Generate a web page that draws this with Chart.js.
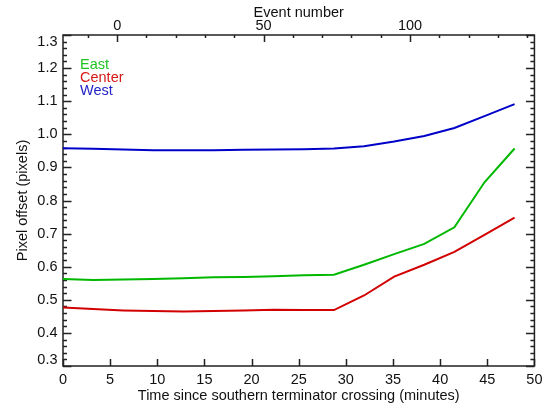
<!DOCTYPE html>
<html>
<head>
<meta charset="utf-8">
<script src="https://cdn.jsdelivr.net/npm/chart.js@4.4.1/dist/chart.umd.min.js"></script>
<style>
  html, body { margin: 0; padding: 0; background: #fff; }
  #wrap { width: 548px; height: 405px; position: relative; }
</style>
</head>
<body>
<div id="wrap"><canvas id="c" width="548" height="405"></canvas></div>
<script>
// ---- data ----
const times = [0, 3.193, 6.386, 9.579, 12.772, 15.965, 19.158, 22.351, 25.544, 28.737, 31.93, 35.123, 38.316, 41.509, 44.702, 47.895];
const eastValues   = [0.563, 0.560, 0.561, 0.563, 0.565, 0.568, 0.569, 0.571, 0.574, 0.576, 0.606, 0.638, 0.669, 0.719, 0.855, 0.957];
const centerValues = [0.477, 0.472, 0.468, 0.466, 0.465, 0.466, 0.468, 0.470, 0.469, 0.469, 0.513, 0.570, 0.606, 0.645, 0.696, 0.748];
const westValues   = [0.958, 0.956, 0.954, 0.952, 0.952, 0.952, 0.953, 0.954, 0.955, 0.957, 0.964, 0.978, 0.995, 1.019, 1.055, 1.091];
const seriesNames = ['East', 'Center', 'West'];
const xTickLabels = [0, 5, 10, 15, 20, 25, 30, 35, 40, 45, 50];
const yTickLabels = [0.3, 0.4, 0.5, 0.6, 0.7, 0.8, 0.9, 1.0, 1.1, 1.2, 1.3];
const eventTickLabels = [0, 50, 100];
const eventMinorTicks = [-10, 0, 10, 20, 30, 40, 50, 60, 70, 80, 90, 100, 110, 120, 130, 140];
const eventRange = [-18.5, 142.5]; // event number at time 0 and time 50

// ---- style ----
const lineColors = ['#00b800', '#d20000', '#0000c8'];
const textColors = ['#22c422', '#d81818', '#2222c8'];
const FONT = "'Liberation Sans', Arial, Helvetica, sans-serif";
const FS = 14.5;
const AXIS = '#222222';

function toXY(vals) { return times.map((t, i) => ({ x: t, y: vals[i] })); }

const frameTicks = {
  id: 'frameTicks',
  beforeDatasetsDraw(chart) {
    const { ctx, chartArea: a, scales } = chart;
    ctx.save();
    ctx.strokeStyle = AXIS;
    ctx.lineWidth = 1.5;
    ctx.beginPath();
    ctx.rect(a.left, a.top, a.right - a.left, a.bottom - a.top);
    ctx.stroke();
    ctx.beginPath();
    for (let k = 0; k <= 50; k++) {
      const v = 0.3 + k * 0.02;
      const py = Math.round(scales.y.getPixelForValue(v)) + 0.5;
      const len = (k % 5 === 0) ? 8.5 : 4;
      ctx.moveTo(a.left, py); ctx.lineTo(a.left + len, py);
      ctx.moveTo(a.right, py); ctx.lineTo(a.right - len, py);
    }
    xTickLabels.forEach(v => {
      const px = Math.round(scales.x.getPixelForValue(v)) + 0.5;
      ctx.moveTo(px, a.bottom); ctx.lineTo(px, a.bottom - 7);
    });
    eventMinorTicks.forEach(v => {
      const px = Math.round(scales.x2.getPixelForValue(v)) + 0.5;
      const len = (v % 50 === 0) ? 7 : 3;
      ctx.moveTo(px, a.top); ctx.lineTo(px, a.top + len);
    });
    ctx.stroke();
    // y tick labels, kept inside the frame's vertical extent
    ctx.font = FS + 'px ' + FONT;
    ctx.fillStyle = '#111';
    ctx.textAlign = 'right';
    ctx.textBaseline = 'middle';
    yTickLabels.forEach(v => {
      let py = scales.y.getPixelForValue(v);
      py = Math.min(Math.max(py, a.top + 6.5), a.bottom - 6);
      ctx.fillText(v.toFixed(1), a.left - 5.5, py);
    });
    ctx.restore();
  },
  afterDraw(chart) {
    const { ctx, chartArea: a } = chart;
    ctx.save();
    ctx.font = FS + 'px ' + FONT;
    ctx.textBaseline = 'alphabetic';
    ctx.textAlign = 'left';
    chart.data.datasets.forEach((ds, i) => {
      ctx.fillStyle = textColors[i];
      ctx.fillText(ds.label, a.left + 17, a.top + 33.5 + i * 13.4);
    });
    ctx.restore();
  }
};

new Chart(document.getElementById('c'), {
  type: 'line',
  data: {
    datasets: [eastValues, centerValues, westValues].map((vals, i) => ({
      label: seriesNames[i],
      data: toXY(vals),
      borderColor: lineColors[i],
      backgroundColor: lineColors[i],
      borderWidth: 2,
      pointRadius: 0,
      tension: 0,
      fill: false
    }))
  },
  options: {
    responsive: false,
    animation: false,
    events: [],
    layout: { padding: { left: 0, right: 6, top: 0, bottom: 0 } },
    plugins: { legend: { display: false }, tooltip: { enabled: false } },
    scales: {
      x: {
        type: 'linear', position: 'bottom', min: 0, max: 50,
        afterBuildTicks: s => { s.ticks = xTickLabels.map(v => ({ value: v })); },
        afterFit: s => { s.height = 39; },
        grid: { display: false, drawTicks: false },
        border: { display: false },
        ticks: { color: '#111', font: { family: FONT, size: FS }, padding: 5.5, maxRotation: 0, autoSkip: false },
        title: { display: true, text: 'Time since southern terminator crossing (minutes)', color: '#111',
                 font: { family: FONT, size: FS }, padding: { top: 0, bottom: 0 } }
      },
      x2: {
        type: 'linear', position: 'top', min: eventRange[0], max: eventRange[1],
        afterBuildTicks: s => { s.ticks = eventTickLabels.map(v => ({ value: v })); },
        afterFit: s => { s.height = 35; },
        grid: { display: false, drawTicks: false },
        border: { display: false },
        ticks: { color: '#111', font: { family: FONT, size: FS }, padding: 0, maxRotation: 0, autoSkip: false },
        title: { display: true, text: 'Event number', color: '#111',
                 font: { family: FONT, size: FS }, padding: { top: 4, bottom: 0 } }
      },
      y: {
        type: 'linear', position: 'left', min: 0.3, max: 1.3,
        afterBuildTicks: s => { s.ticks = yTickLabels.map(v => ({ value: v })); },
        afterFit: s => { s.width = 63; },
        grid: { display: false, drawTicks: false },
        border: { display: false },
        ticks: { display: false },
        title: { display: true, text: 'Pixel offset (pixels)', color: '#111',
                 font: { family: FONT, size: FS }, padding: { top: 14, bottom: 0 } }
      }
    }
  },
  plugins: [frameTicks]
});
</script>
</body>
</html>
